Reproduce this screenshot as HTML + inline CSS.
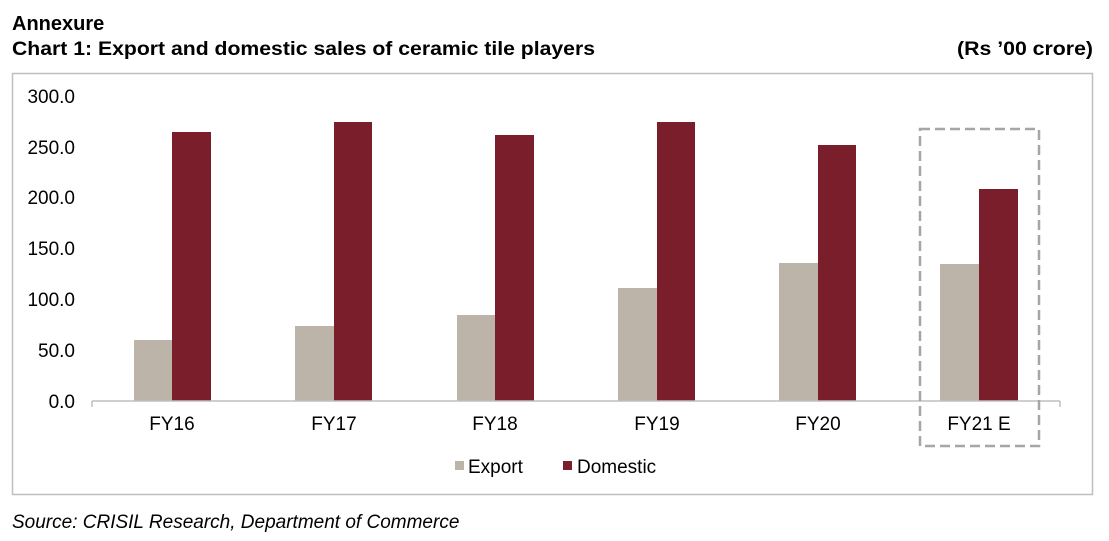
<!DOCTYPE html>
<html><head><style>body{margin:0;background:#fff;}svg{display:block}</style></head>
<body>
<svg width="1109" height="541" xmlns="http://www.w3.org/2000/svg" font-family="'Liberation Sans', Arial, sans-serif">
<text x="12" y="30" font-size="20" font-weight="bold" fill="#000">Annexure</text>
<text x="12" y="55" font-size="19.5" font-weight="bold" fill="#000" textLength="583" lengthAdjust="spacingAndGlyphs">Chart 1: Export and domestic sales of ceramic tile players</text>
<text x="1093" y="55" font-size="19.5" font-weight="bold" fill="#000" text-anchor="end" textLength="136" lengthAdjust="spacingAndGlyphs">(Rs ’00 crore)</text>
<rect x="12.5" y="73.5" width="1080" height="421" fill="none" stroke="#bfbfbf" stroke-width="1.5"/>
<g font-size="19" fill="#000" text-anchor="end">
<text x="75" y="103">300.0</text><text x="75" y="154">250.0</text><text x="75" y="204">200.0</text>
<text x="75" y="255">150.0</text><text x="75" y="306">100.0</text><text x="75" y="357">50.0</text><text x="75" y="408">0.0</text>
</g>
<g fill="#bcb4a8">
<rect x="134" y="340" width="38" height="61"/>
<rect x="295" y="326" width="39" height="75"/>
<rect x="457" y="315" width="38" height="86"/>
<rect x="618" y="288" width="39" height="113"/>
<rect x="779" y="263" width="39" height="138"/>
<rect x="940" y="264" width="39" height="137"/>
</g>
<g fill="#7b1e2b">
<rect x="172" y="132" width="39" height="269"/>
<rect x="334" y="122" width="38" height="279"/>
<rect x="495" y="135" width="39" height="266"/>
<rect x="657" y="122" width="38" height="279"/>
<rect x="818" y="145" width="38" height="256"/>
<rect x="979" y="189" width="39" height="212"/>
</g>
<line x1="92" y1="401" x2="1060" y2="401" stroke="#bfbfbf" stroke-width="1.5"/>
<line x1="92" y1="401" x2="92" y2="407" stroke="#bfbfbf" stroke-width="1.5"/>
<line x1="1060" y1="401" x2="1060" y2="407" stroke="#bfbfbf" stroke-width="1.5"/>
<g font-size="19" fill="#000" text-anchor="middle">
<text x="172" y="430">FY16</text><text x="334" y="430">FY17</text><text x="495" y="430">FY18</text>
<text x="657" y="430">FY19</text><text x="818" y="430">FY20</text><text x="979" y="430">FY21 E</text>
</g>
<rect x="920" y="129" width="119" height="317" fill="none" stroke="#a6a6a6" stroke-width="2.5" stroke-dasharray="10,5"/>
<rect x="455" y="461" width="9" height="9" fill="#bcb4a8"/>
<text x="468" y="473" font-size="19">Export</text>
<rect x="563" y="461" width="9" height="9" fill="#7b1e2b"/>
<text x="577" y="473" font-size="19">Domestic</text>
<text x="12" y="528" font-size="19" font-style="italic" fill="#000">Source: CRISIL Research, Department of Commerce</text>
</svg>
</body></html>
